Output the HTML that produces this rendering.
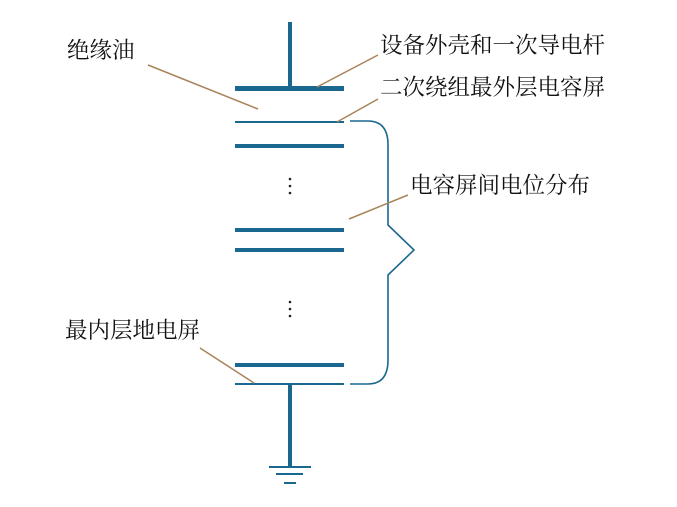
<!DOCTYPE html>
<html><head><meta charset="utf-8"><style>
body{margin:0;background:#fff;}
svg text{font-family:"Liberation Serif","Noto Serif CJK SC","Noto Sans CJK SC",serif;font-size:22.5px;fill:#111;}
</style></head><body>
<svg width="677" height="502" viewBox="0 0 677 502">
<g stroke="#1a6890" fill="none">
<line x1="290" y1="22" x2="290" y2="88" stroke-width="4"/>
<line x1="235" y1="88.5" x2="344" y2="88.5" stroke-width="5"/>
<line x1="235" y1="122" x2="344" y2="122" stroke-width="2"/>
<line x1="235" y1="146" x2="344" y2="146" stroke-width="4"/>
<line x1="235" y1="230" x2="344" y2="230" stroke-width="4"/>
<line x1="235" y1="250" x2="344" y2="250" stroke-width="4"/>
<line x1="235" y1="365" x2="344" y2="365" stroke-width="4"/>
<line x1="235" y1="384" x2="344" y2="384" stroke-width="2"/>
<line x1="290" y1="384" x2="290" y2="467" stroke-width="4"/>
<line x1="269" y1="467" x2="311" y2="467" stroke-width="2"/>
<line x1="276" y1="474" x2="303" y2="474" stroke-width="2"/>
<line x1="284" y1="483" x2="296" y2="483" stroke-width="2"/>
<path d="M350 121 H368 Q388 121 388 145 V225 L414 250 L388 275 V360 Q388 384 368 384 H350" stroke-width="1.6"/>
</g>
<g fill="#222">
<circle cx="290" cy="179" r="1.3"/><circle cx="290" cy="186" r="1.3"/><circle cx="290" cy="193" r="1.3"/>
<circle cx="290" cy="302" r="1.3"/><circle cx="290" cy="309" r="1.3"/><circle cx="290" cy="316" r="1.3"/>
</g>
<g stroke="#a8835a" stroke-width="1.5">
<line x1="148" y1="65" x2="258" y2="109"/>
<line x1="378" y1="55" x2="317" y2="87"/>
<line x1="378" y1="99" x2="337" y2="122"/>
<line x1="408" y1="195" x2="349" y2="219"/>
<line x1="200" y1="348" x2="254" y2="383"/>
</g>
<text x="67" y="58">绝缘油</text>
<text x="380" y="53">设备外壳和一次导电杆</text>
<text x="380" y="95">二次绕组最外层电容屏</text>
<text x="410" y="193">电容屏间电位分布</text>
<text x="65" y="338">最内层地电屏</text>
</svg>
</body></html>
